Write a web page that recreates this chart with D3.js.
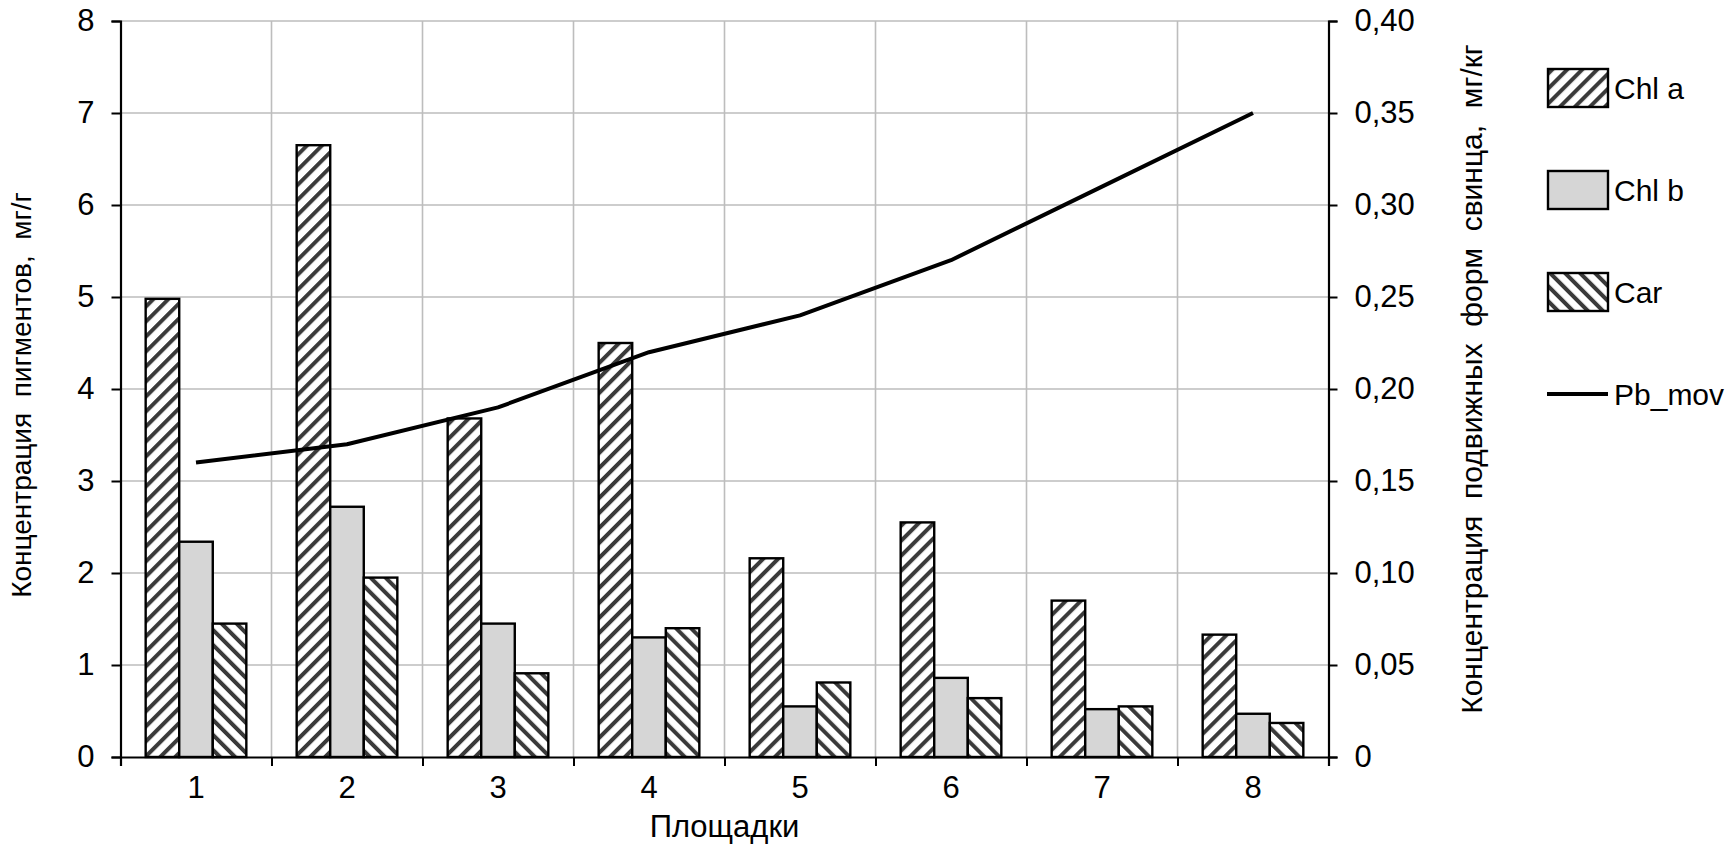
<!DOCTYPE html>
<html>
<head>
<meta charset="utf-8">
<script src="https://cdn.jsdelivr.net/npm/d3@7"></script>
<style>
  html, body { margin: 0; padding: 0; background: #fff; }
  svg { display: block; font-family: "Liberation Sans", Arial, sans-serif; }
  .ttl { white-space: pre; }
</style>
</head>
<body>
<svg id="chart" width="1732" height="846"></svg>
<script>
// ---- data ----
const categories = ["1", "2", "3", "4", "5", "6", "7", "8"];
const chlA = [4.98, 6.65, 3.68, 4.50, 2.16, 2.55, 1.70, 1.33];
const chlB = [2.34, 2.72, 1.45, 1.30, 0.55, 0.86, 0.52, 0.47];
const car  = [1.45, 1.95, 0.91, 1.40, 0.81, 0.64, 0.55, 0.37];
const pbMov = [0.16, 0.17, 0.19, 0.22, 0.24, 0.27, 0.31, 0.35];
const leftTicks = [0, 1, 2, 3, 4, 5, 6, 7, 8];
const rightTicks = [0, 0.05, 0.10, 0.15, 0.20, 0.25, 0.30, 0.35, 0.40];
const seriesNames = ["Chl a", "Chl b", "Car"];
const lineName = "Pb_mov";
const xTitle = "Площадки";
const yTitleLeft = "Концентрация  пигментов,  мг/г";
const yTitleRight = "Концентрация  подвижных  форм  свинца,  мг/кг";

// ---- layout ----
const L = 120.5, R = 1328.5, T = 21, B = 757;
const svg = d3.select("#chart");
const FS = 31;

const x = d3.scaleBand().domain(categories).range([L, R]).paddingInner(0).paddingOuter(0);
const xBound = d3.scaleLinear().domain([0, categories.length]).range([L, R]);
const y = d3.scaleLinear().domain([0, 8]).range([B, T]);
const y2 = d3.scaleLinear().domain([0, 0.40]).range([B, T]);

const bw = x.bandwidth();
const barW = bw / 4.5;              // gap width 150%
const groupOff = (bw - 3 * barW) / 2;
const xs = d3.scaleBand().domain(seriesNames).range([groupOff, groupOff + 3 * barW]);

// patterns
const defs = svg.append("defs");
function hatch(id, angle) {
  const p = defs.append("pattern").attr("id", id)
    .attr("patternUnits", "userSpaceOnUse")
    .attr("width", 10.6).attr("height", 10.6)
    .attr("patternTransform", `rotate(${angle})`);
  p.append("rect").attr("width", 10.6).attr("height", 10.6).attr("fill", "#fff");
  p.append("rect").attr("x", 0).attr("width", 4).attr("height", 10.6).attr("fill", "#3a3a3a");
}
hatch("hA", 45);
hatch("hC", -45);
const fills = {"Chl a": "url(#hA)", "Chl b": "#d6d6d6", "Car": "url(#hC)"};
const dataBy = {"Chl a": chlA, "Chl b": chlB, "Car": car};

// gridlines
const grid = svg.append("g");
grid.selectAll("line.h").data(leftTicks.filter(d => d > 0)).join("line")
  .attr("x1", L).attr("x2", R).attr("y1", d => y(d)).attr("y2", d => y(d))
  .attr("stroke", "#bdbdbd").attr("stroke-width", 1.6);
grid.selectAll("line.v").data(d3.range(1, categories.length)).join("line")
  .attr("x1", d => xBound(d)).attr("x2", d => xBound(d)).attr("y1", T).attr("y2", B)
  .attr("stroke", "#bdbdbd").attr("stroke-width", 1.6);

// bars
const bars = svg.append("g");
seriesNames.forEach(s => {
  bars.selectAll(null).data(dataBy[s]).join("rect")
    .attr("x", (d, i) => x(categories[i]) + xs(s))
    .attr("y", d => y(d))
    .attr("width", xs.bandwidth())
    .attr("height", d => B - y(d))
    .attr("fill", fills[s])
    .attr("stroke", "#000").attr("stroke-width", 2.4);
});

// line
const line = d3.line().x((d, i) => x(categories[i]) + bw / 2).y(d => y2(d));
svg.append("path").datum(pbMov).attr("d", line)
  .attr("fill", "none").attr("stroke", "#000").attr("stroke-width", 4).attr("stroke-linejoin", "round");

// axes
const fmtR = d => d === 0 ? "0" : d.toFixed(2).replace(".", ",");
const axL = svg.append("g").attr("transform", `translate(${L},0)`)
  .call(d3.axisLeft(y).tickValues(leftTicks).tickFormat(d3.format("d")).tickSize(9).tickPadding(17));
const axR = svg.append("g").attr("transform", `translate(${R},0)`)
  .call(d3.axisRight(y2).tickValues(rightTicks).tickFormat(fmtR).tickSize(9).tickPadding(17));
const axB = svg.append("g").attr("transform", `translate(0,${B})`)
  .call(d3.axisBottom(xBound).tickValues(d3.range(0, categories.length + 1)).tickFormat("").tickSize(9));
const axBL = svg.append("g").attr("transform", `translate(0,${B})`)
  .call(d3.axisBottom(x).tickSize(0).tickPadding(19));
axBL.select(".domain").remove();
[axL, axR, axB, axBL].forEach(g => {
  g.selectAll(".domain").attr("stroke", "#000").attr("stroke-width", 2.2);
  g.selectAll(".tick line").attr("stroke", "#000").attr("stroke-width", 2);
  g.selectAll("text").attr("font-size", FS).attr("fill", "#000")
    .attr("font-family", '"Liberation Sans", Arial, sans-serif');
});

// titles
svg.append("text").attr("x", (L + R) / 2).attr("y", 837).attr("text-anchor", "middle")
  .attr("font-size", FS).text(xTitle);
svg.append("text").attr("class", "ttl")
  .attr("transform", "translate(31,395) rotate(-90)").attr("text-anchor", "middle")
  .attr("font-size", 28).text(yTitleLeft);
svg.append("text").attr("class", "ttl")
  .attr("transform", "translate(1482,379) rotate(-90)").attr("text-anchor", "middle")
  .attr("font-size", 30).text(yTitleRight);

// legend
const legY = [88, 190, 292];
const leg = svg.append("g");
seriesNames.forEach((s, i) => {
  leg.append("rect").attr("x", 1548).attr("y", legY[i] - 19).attr("width", 60).attr("height", 38)
    .attr("fill", fills[s]).attr("stroke", "#000").attr("stroke-width", 2.4);
  leg.append("text").attr("x", 1614).attr("y", legY[i]).attr("dy", "0.36em")
    .attr("font-size", 30).text(s);
});
leg.append("line").attr("x1", 1547).attr("x2", 1608).attr("y1", 394).attr("y2", 394)
  .attr("stroke", "#000").attr("stroke-width", 4);
leg.append("text").attr("x", 1614).attr("y", 394).attr("dy", "0.36em").attr("font-size", 30).text(lineName);
</script>
</body>
</html>
